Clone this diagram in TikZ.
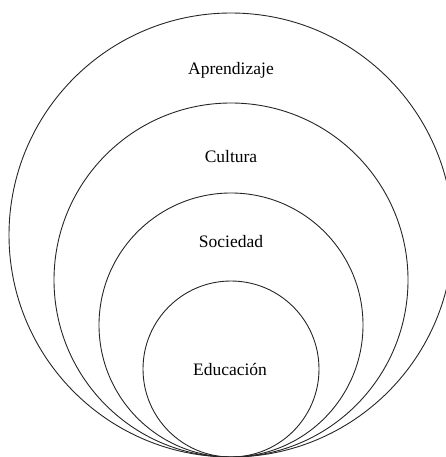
\documentclass[tikz,border=0pt]{standalone}
\usepackage{fontspec}
\setmainfont{Liberation Serif}
\begin{document}
\begin{tikzpicture}[x=1pt,y=-1pt,
  ring/.style={circle,draw=black!85,line width=0.9pt,inner sep=0pt},
  lbl/.style={font=\fontsize{17.5}{20}\selectfont,inner sep=0pt}]
\useasboundingbox (0,0) rectangle (446,457);
\node[ring,minimum size=444pt] (c1) at (231,235) {};
\node[ring,minimum size=354pt] (c2) at (231,280) {};
\node[ring,minimum size=264pt] (c3) at (231,325) {};
\node[ring,minimum size=176pt] (c4) at (231,369) {};
\node[lbl] (t1) at (231,70) {Aprendizaje};
\node[lbl] (t2) at (231,157) {Cultura};
\node[lbl] (t3) at (231,242) {Sociedad};
\node[lbl] (t4) at (230,369) {Educación};
\end{tikzpicture}
\end{document}
